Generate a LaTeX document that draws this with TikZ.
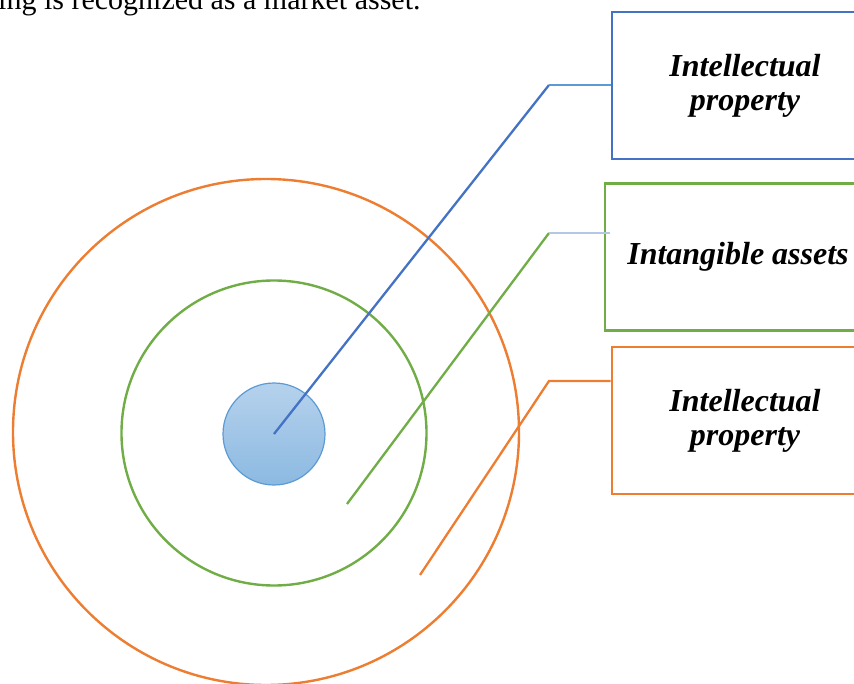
\documentclass[tikz,border=0pt]{standalone}
\usepackage{fontspec}
\setmainfont{Liberation Serif}
\usepackage{tikz}
\usetikzlibrary{calc, positioning}
\definecolor{ringblue}{HTML}{4472C4}
\definecolor{lightblue}{HTML}{5B9BD5}
\definecolor{paleblue}{HTML}{B4C7E7}
\definecolor{ringgreen}{HTML}{70AD47}
\definecolor{ringorange}{HTML}{ED7D31}
\def\boxwidth{266pt}
\tikzstyle{ring}=[circle,draw,line width=2.4pt,inner sep=0pt]
\tikzstyle{core}=[ring,draw=lightblue,line width=1.2pt,top color=lightblue!45,bottom color=lightblue!70]
\tikzstyle{label box}=[draw,line width=2.7pt,minimum width=\boxwidth,minimum height=147pt,align=center,
  font=\fontsize{32}{34}\selectfont\bfseries\itshape]
\tikzstyle{leader}=[line width=2.3pt]

\begin{document}
\begin{tikzpicture}[x=1pt,y=-1pt]
		\clip (0,0) rectangle (854,684);
		\node[anchor=base west,font=\fontsize{30}{34}\selectfont,inner sep=0pt] (L) at (-2,10) {ing is recognized as a market asset.};
		\node[ring,draw=ringorange,minimum size=506pt] (R-3) at (266,432) {};
		\node[ring,draw=ringgreen,minimum size=305pt] (R-2) at (274,433) {};
		\node[core,minimum size=102pt] (C) at (274,434) {};
		\node[label box,draw=ringblue] (B-1) at (745,85.5) {Intellectual\\property};
		\node[label box,draw=ringgreen] (B-2) at (738,257) {Intangible assets};
		\node[label box,draw=ringorange] (B-3) at (745,420.5) {Intellectual\\property};
		\coordinate (K-1) at (549,85);
		\coordinate (K-2) at (549,233);
		\coordinate (K-3) at (549,381);
		\coordinate (E-2) at (347,504);
		\coordinate (E-3) at (420,575);
		\draw[leader,ringblue] (C.center) -- (K-1);
		\draw[leader,lightblue] (K-1) -- (K-1 -| B-1.west);
		\draw[leader,ringgreen] (E-2) -- (K-2);
		\draw[leader,paleblue] (K-2) -- ($(K-2 -| B-2.west)+(6,0)$);
		\draw[leader,ringorange] (E-3) -- (K-3) -- (K-3 -| B-3.west);
	\end{tikzpicture}
\end{document}
